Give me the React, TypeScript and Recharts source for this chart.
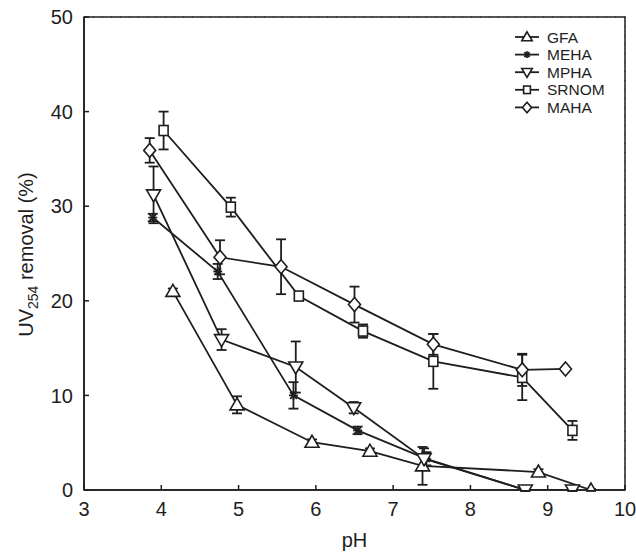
import React from 'react';
import {
  ComposedChart, Line, XAxis, YAxis, CartesianGrid, ErrorBar, ReferenceArea,
} from 'recharts';

const X_TICKS = [3, 4, 5, 6, 7, 8, 9, 10];
const Y_TICKS = [0, 10, 20, 30, 40, 50];

const GFA_PH = [4.15, 4.98, 5.95, 6.7, 7.38, 8.88, 9.56];
const GFA_VAL = [21.0, 9.0, 5.05, 4.1, 2.55, 1.9, 0];
const GFA_ERR = [0.3, 0.9, 0.3, 0.3, 2.0, 0.3, 0.1];

const MEHA_PH = [3.89, 4.73, 5.71, 6.54, 7.43, 8.71, 9.32];
const MEHA_VAL = [28.8, 23.1, 10.0, 6.3, 3.3, 0, 0];
const MEHA_ERR = [0.4, 0.8, 1.4, 0.4, 0.7, 0.1, 0.1];

const MPHA_PH = [3.9, 4.78, 5.74, 6.49, 7.4, 8.71, 9.32];
const MPHA_VAL = [31.2, 15.9, 13.0, 8.7, 3.3, 0, 0];
const MPHA_ERR = [3.0, 1.1, 2.7, 0.6, 1.1, 0.1, 0.1];

const SRNOM_PH = [4.03, 4.9, 5.78, 6.61, 7.52, 8.67, 9.32];
const SRNOM_VAL = [38.0, 29.9, 20.5, 16.8, 13.6, 11.9, 6.3];
const SRNOM_ERR = [2.0, 1.0, 0.3, 0.7, 2.9, 2.4, 1.0];

const MAHA_PH = [3.85, 4.76, 5.55, 6.5, 7.52, 8.67, 9.23];
const MAHA_VAL = [35.9, 24.6, 23.6, 19.6, 15.4, 12.7, 12.8];
const MAHA_ERR = [1.3, 1.8, 2.9, 1.9, 1.1, 1.7, 0.1];

const SERIES_NAMES = ['GFA', 'MEHA', 'MPHA', 'SRNOM', 'MAHA'];

const build = (ph: number[], v: number[], e: number[]) =>
  ph.map((x, i) => ({ x, y: v[i], e: e[i] }));

const SERIES = [
  { name: 'GFA', shape: 'up', data: build(GFA_PH, GFA_VAL, GFA_ERR) },
  { name: 'MEHA', shape: 'star', data: build(MEHA_PH, MEHA_VAL, MEHA_ERR) },
  { name: 'MPHA', shape: 'down', data: build(MPHA_PH, MPHA_VAL, MPHA_ERR) },
  { name: 'SRNOM', shape: 'square', data: build(SRNOM_PH, SRNOM_VAL, SRNOM_ERR) },
  { name: 'MAHA', shape: 'diamond', data: build(MAHA_PH, MAHA_VAL, MAHA_ERR) },
];

const INK = '#1e1e1e';
const FONT = '"Liberation Sans", Arial, sans-serif';

function Marker({ shape, cx, cy, s = 1 }: { shape: string; cx: number; cy: number; s?: number }) {
  const sw = 1.6;
  if (shape === 'up') {
    return <polygon points={`${cx},${cy - 7 * s} ${cx - 7 * s},${cy + 5 * s} ${cx + 7 * s},${cy + 5 * s}`} fill="#fff" stroke={INK} strokeWidth={sw} />;
  }
  if (shape === 'down') {
    return <polygon points={`${cx},${cy + 7 * s} ${cx - 7 * s},${cy - 5 * s} ${cx + 7 * s},${cy - 5 * s}`} fill="#fff" stroke={INK} strokeWidth={sw} />;
  }
  if (shape === 'square') {
    return <rect x={cx - 4.5 * s} y={cy - 5 * s} width={9 * s} height={10 * s} fill="#fff" stroke={INK} strokeWidth={sw} />;
  }
  if (shape === 'diamond') {
    return <polygon points={`${cx},${cy - 7 * s} ${cx + 6 * s},${cy} ${cx},${cy + 7 * s} ${cx - 6 * s},${cy}`} fill="#fff" stroke={INK} strokeWidth={sw} />;
  }
  const r = 4.5 * s;
  return (
    <g stroke={INK} strokeWidth={1.8}>
      <line x1={cx - r} y1={cy} x2={cx + r} y2={cy} />
      <line x1={cx} y1={cy - r} x2={cx} y2={cy + r} />
      <line x1={cx - r * 0.75} y1={cy - r * 0.75} x2={cx + r * 0.75} y2={cy + r * 0.75} />
      <line x1={cx - r * 0.75} y1={cy + r * 0.75} x2={cx + r * 0.75} y2={cy - r * 0.75} />
    </g>
  );
}

const makeDot = (shape: string) => (props: any) => {
  const { cx, cy, index } = props;
  if (cx == null || cy == null) return <g key={`d${index}`} />;
  return <g key={`${shape}-${index}`}><Marker shape={shape} cx={cx} cy={cy} /></g>;
};

function LegendBox() {
  return (
    <svg width={110} height={100} style={{ display: 'block' }}>
      {SERIES.map((s, i) => {
        const y = 9 + i * 17.6;
        return (
          <g key={s.name}>
            <line x1={3} x2={27} y1={y} y2={y} stroke={INK} strokeWidth={1.8} />
            <Marker shape={s.shape} cx={15} cy={y} s={0.75} />
            <text x={35} y={y + 5.5} fontFamily={FONT} fontSize={15.5} fill={INK}>{SERIES_NAMES[i]}</text>
          </g>
        );
      })}
    </svg>
  );
}

function YLabel(props: any) {
  const vb = props.viewBox || { x: 0, y: 0, width: 0, height: 0 };
  const cx = 33;
  const cy = vb.y + vb.height / 2 + 1;
  return (
    <text transform={`rotate(-90, ${cx}, ${cy})`} x={cx} y={cy} textAnchor="middle" fontFamily={FONT} fontSize={20} fill={INK}>
      UV<tspan fontSize={14} dy={5}>254</tspan><tspan dy={-5}> removal (%)</tspan>
    </text>
  );
}

const noLabel = (p: any) => <g key={`n${p.index}`} />;

export default function App() {
  return (
    <div style={{ position: 'absolute', left: 0, top: 0, width: 636, height: 552, background: '#fff' }}>
      <ComposedChart width={636} height={552} margin={{ top: 17, right: 11, left: 0, bottom: 0 }}>
        <CartesianGrid stroke="#333" strokeDasharray="1 8" />
        <XAxis
          xAxisId="main" type="number" dataKey="x" domain={[3, 10]} ticks={X_TICKS} allowDataOverflow
          height={62} tickSize={-5} tickMargin={17} stroke={INK}
          tick={{ fontFamily: FONT, fontSize: 20, fill: INK }}
          axisLine={{ stroke: INK, strokeWidth: 1.5 }}
          tickLine={{ stroke: INK, strokeWidth: 1.5 }}
          label={{ value: 'pH', position: 'insideBottom', offset: 5, fontFamily: FONT, fontSize: 20, fill: INK }}
        />
        <XAxis
          xAxisId="top" orientation="top" type="number" dataKey="x" domain={[3, 10]} ticks={X_TICKS} allowDataOverflow
          height={0} tickSize={-5} axisLine={false} tick={noLabel}
          tickLine={{ stroke: INK, strokeWidth: 1.5 }}
        />
        <YAxis
          yAxisId="main" type="number" dataKey="y" domain={[0, 50]} ticks={Y_TICKS} allowDataOverflow
          width={84} tickSize={-5} tickMargin={16} stroke={INK}
          tick={{ fontFamily: FONT, fontSize: 20, fill: INK }}
          axisLine={{ stroke: INK, strokeWidth: 1.5 }}
          tickLine={{ stroke: INK, strokeWidth: 1.5 }}
          label={<YLabel />}
        />
        <YAxis
          yAxisId="right" orientation="right" type="number" dataKey="y" domain={[0, 50]} ticks={Y_TICKS} allowDataOverflow
          width={0} tickSize={-5} axisLine={false} tick={noLabel}
          tickLine={{ stroke: INK, strokeWidth: 1.5 }}
        />
        <ReferenceArea xAxisId="main" yAxisId="main" x1={3} x2={10} y1={0} y2={50} fill="none" stroke={INK} strokeWidth={1.5} ifOverflow="visible" />
        {SERIES.map((s) => (
          <Line
            key={s.name}
            xAxisId="main"
            yAxisId="main"
            data={s.data}
            dataKey="y"
            name={s.name}
            stroke={INK}
            strokeWidth={1.8}
            dot={makeDot(s.shape)}
            activeDot={false}
            isAnimationActive={false}
            legendType="none"
          >
            <ErrorBar dataKey="e" direction="y" width={5} stroke={INK} strokeWidth={1.8} isAnimationActive={false} />
          </Line>
        ))}
      </ComposedChart>
      <div style={{ position: 'absolute', left: 512, top: 28 }}>
        <LegendBox />
      </div>
    </div>
  );
}
